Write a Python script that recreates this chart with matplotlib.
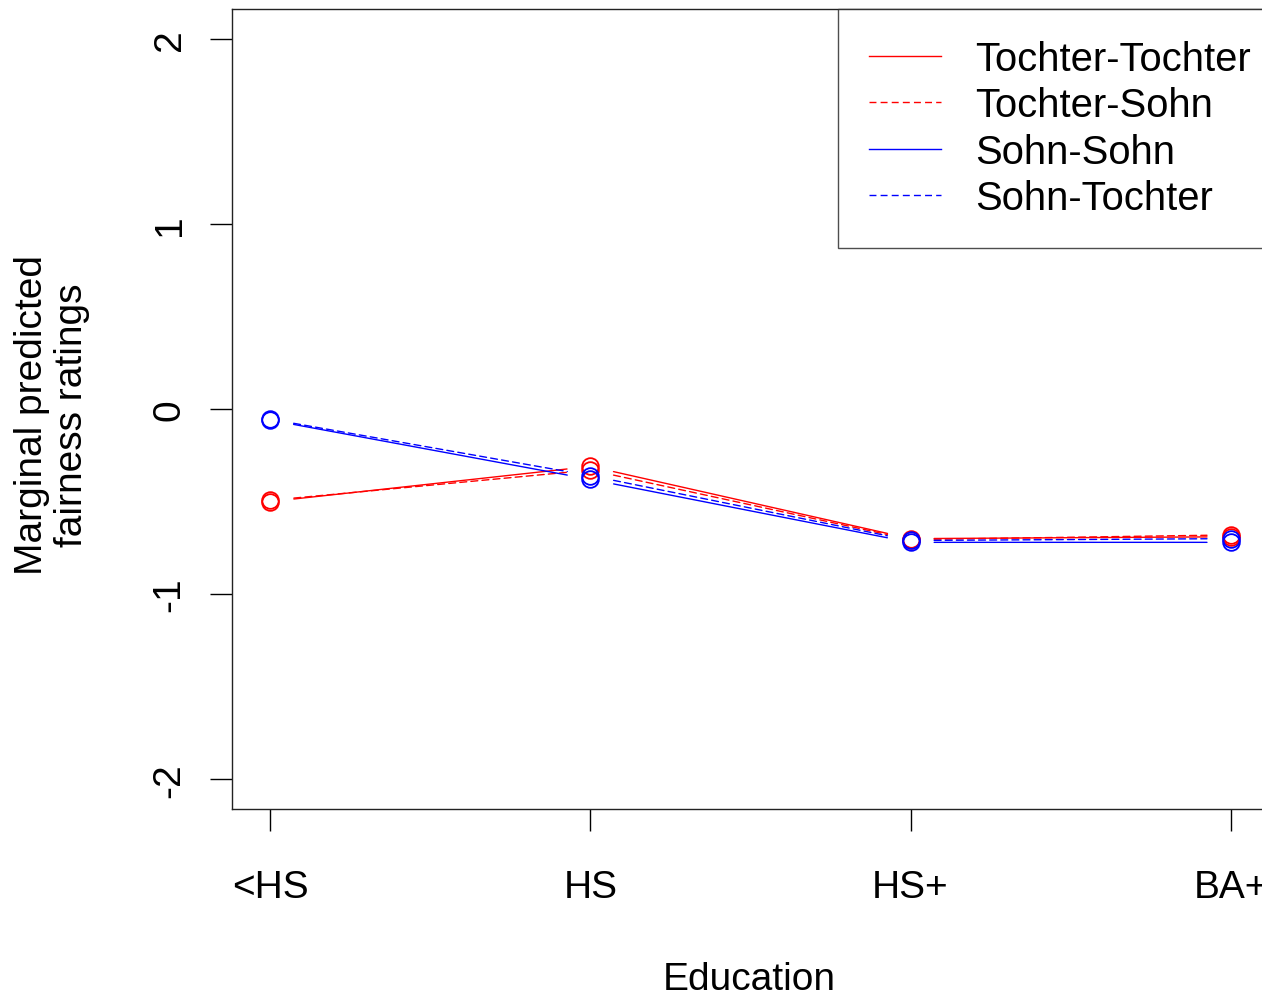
import matplotlib
matplotlib.use("Agg")
import matplotlib.pyplot as plt
from matplotlib.lines import Line2D

plt.rcParams['font.family'] = ['Liberation Sans', 'DejaVu Sans']
plt.rcParams['axes.unicode_minus'] = False

# Daten
bildung = ["<HS", "HS", "HS+", "BA+"]
tochter_tochter = [-0.50, -0.31, -0.70, -0.69]
tochter_sohn = [-0.493, -0.33, -0.705, -0.68]
sohn_sohn = [-0.06, -0.38, -0.72, -0.72]
sohn_tochter = [-0.055, -0.36, -0.71, -0.70]

serien = [
    ("Tochter-Tochter", tochter_tochter, "red", "-"),
    ("Tochter-Sohn", tochter_sohn, "red", (0, (5, 3))),
    ("Sohn-Sohn", sohn_sohn, "blue", "-"),
    ("Sohn-Tochter", sohn_tochter, "blue", (0, (5, 3))),
]

fs = 28
fig = plt.figure(figsize=(12.62, 9.95), dpi=100)
ax = fig.add_axes([232 / 1262, 1 - 810 / 995, 1037 / 1262, 800 / 995])

x = list(range(len(bildung)))
handles = []
for name, werte, farbe, stil in serien:
    ax.plot(x, werte, "o", ms=12, mfc="none", mec=farbe, mew=1.3)
    # R type="b": Linien mit Luecke um die Punkte
    for i in range(len(x) - 1):
        ax.annotate("", xy=(x[i + 1], werte[i + 1]), xytext=(x[i], werte[i]),
                    arrowprops=dict(arrowstyle="-", color=farbe, lw=1,
                                    linestyle=stil, shrinkA=17, shrinkB=17))
    handles.append(Line2D([], [], color=farbe, lw=1, linestyle=stil, label=name))

ax.set_xlim(-0.12, 3.12)
ax.set_ylim(-2.16, 2.16)
ax.set_xticks(x)
ax.set_xticklabels(bildung)
ax.set_yticks([-2, -1, 0, 1, 2])
ax.tick_params(axis="x", length=16, width=1, labelsize=fs, pad=27)
ax.tick_params(axis="y", length=16, width=1, labelsize=fs, pad=16, labelrotation=90)
for lab in ax.get_yticklabels():
    lab.set_va("center")
for s in ax.spines.values():
    s.set_linewidth(1)
    s.set_color("#222222")

leg = ax.legend(handles=handles, loc="upper left",
                bbox_to_anchor=(838 / 1262, 1 - 10 / 995),
                bbox_transform=fig.transFigure, fontsize=28.8,
                frameon=True, fancybox=False, edgecolor="#222222",
                handlelength=1.8, handletextpad=0.87, labelspacing=0.21,
                borderpad=0.77, borderaxespad=0)
leg.get_frame().set_linewidth(1)

fig.text(52 / 1262, 1 - 415 / 995, "Marginal predicted\nfairness ratings",
         rotation=90, ha="center", va="center", multialignment="center",
         fontsize=fs, linespacing=1.15)
fig.text(749 / 1262, 1 - 980 / 995, "Education", ha="center", va="center",
         fontsize=fs)

fig.savefig("out.png", dpi=100)
